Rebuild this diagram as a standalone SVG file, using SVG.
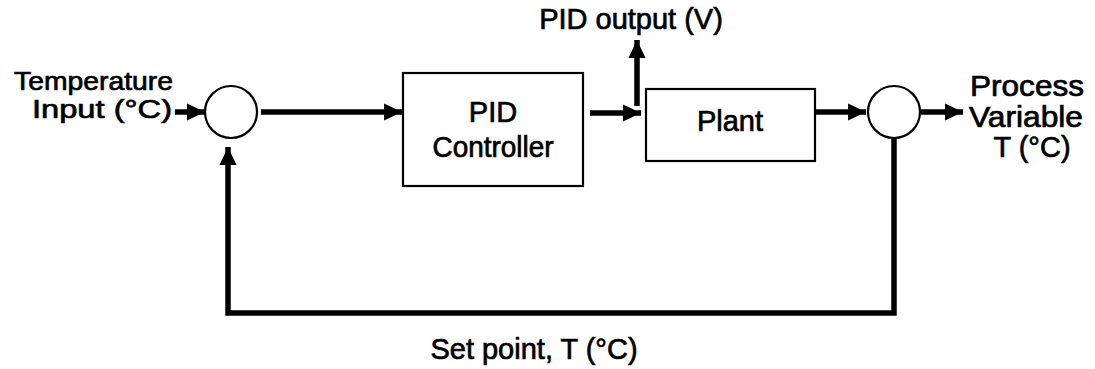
<svg xmlns="http://www.w3.org/2000/svg" width="1095" height="369" viewBox="0 0 1095 369">
<style>
text{font-family:"Liberation Sans",Arial,sans-serif;font-size:29px;fill:#000;stroke:#000;stroke-width:0.7px}
.small{font-size:26px}
.box{fill:#fff;stroke:#000;stroke-width:2.2}
.sum{fill:#fff;stroke:#000;stroke-width:2.2}
.wire{fill:none;stroke:#000;stroke-width:5.5}
</style>
<defs>
<marker id="ah" markerUnits="userSpaceOnUse" markerWidth="20" markerHeight="20" viewBox="0 0 20 20" refX="18" refY="10" orient="auto">
<path d="M0,1.5 L18,10 L0,18.5 Z" fill="#000"/>
</marker>
</defs>
<rect width="1095" height="369" fill="#fff"/>
<g id="connectors">
<line class="wire" x1="175" y1="112" x2="205" y2="112" marker-end="url(#ah)"/>
<line class="wire" x1="261" y1="112" x2="402" y2="112" marker-end="url(#ah)"/>
<line class="wire" x1="590" y1="113" x2="641" y2="113" marker-end="url(#ah)"/>
<line class="wire" x1="637" y1="106" x2="637" y2="40" marker-end="url(#ah)"/>
<line class="wire" x1="816" y1="112" x2="866" y2="112" marker-end="url(#ah)"/>
<line class="wire" x1="921" y1="112" x2="963" y2="112" marker-end="url(#ah)"/>
<polyline class="wire" points="894,139 894,313 228,313 228,147" marker-end="url(#ah)"/>
</g>
<g id="input-label">
<text class="small" x="14" y="90" textLength="159" lengthAdjust="spacingAndGlyphs">Temperature</text>
<text class="small" x="32" y="118" textLength="140" lengthAdjust="spacingAndGlyphs">Input (°C)</text>
</g>
<g id="sum1"><circle class="sum" cx="231" cy="112" r="26"/></g>
<g id="pid">
<rect class="box" x="403" y="73" width="180" height="113"/>
<text x="493" y="122" text-anchor="middle">PID</text>
<text x="493" y="157" text-anchor="middle" textLength="121" lengthAdjust="spacingAndGlyphs">Controller</text>
</g>
<g id="pid-output-label"><text x="631" y="29" text-anchor="middle">PID output (V)</text></g>
<g id="plant">
<rect class="box" x="646" y="89" width="169" height="72"/>
<text x="730" y="131" text-anchor="middle">Plant</text>
</g>
<g id="sum2"><circle class="sum" cx="894" cy="112" r="26"/></g>
<g id="output-label">
<text x="1027" y="96" text-anchor="middle" textLength="114" lengthAdjust="spacingAndGlyphs">Process</text>
<text x="1026" y="127" text-anchor="middle" textLength="114" lengthAdjust="spacingAndGlyphs">Variable</text>
<text x="1032" y="157" text-anchor="middle">T (°C)</text>
</g>
<g id="setpoint-label"><text x="534" y="359" text-anchor="middle">Set point, T (°C)</text></g>
</svg>
